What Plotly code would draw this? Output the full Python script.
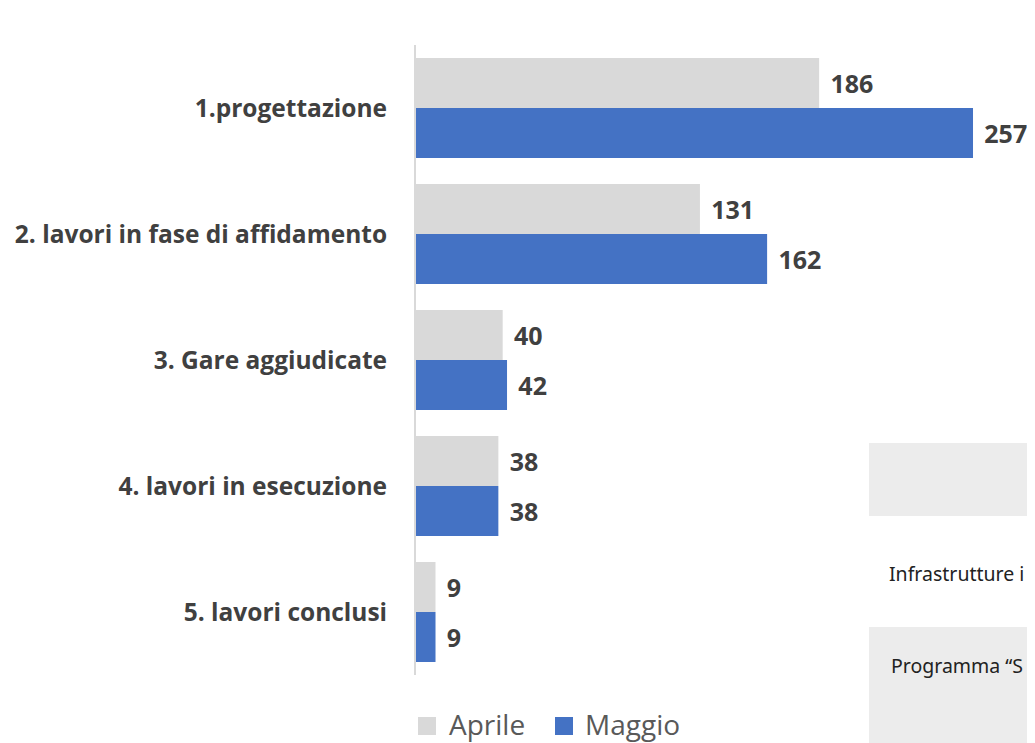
import plotly.graph_objects as go

categories = ["1.progettazione", "2. lavori in fase di affidamento", "3. Gare aggiudicate",
              "4. lavori in esecuzione", "5. lavori conclusi"]
aprile = [186, 131, 40, 38, 9]
maggio = [257, 162, 42, 38, 9]
series_names = ["Aprile", "Maggio"]
table_texts = ["Infrastrutture i", "Programma \u201cS"]

GRAY = "#d9d9d9"
BLUE = "#4472c4"
TXT = "#404040"
FONT = "Open Sans"

# page body adds an 8px offset; figure is laid out in page pixels minus 8
W, H = 1027, 735
L, T, B = 408, 37, 68
PW = W - L
PH = H - T - B


def px(xp):
    return (xp - 8 - L) / PW


def py(yp):
    return (H - B - (yp - 8)) / PH


fig = go.Figure()
for name, vals, col in [(series_names[0], aprile, GRAY), (series_names[1], maggio, BLUE)]:
    fig.add_trace(go.Bar(
        y=categories, x=vals, name=name, orientation="h",
        marker=dict(color=col, line=dict(width=0)),
        text=vals, texttemplate="\u2009\u2009%{x}", textposition="outside",
        textfont=dict(family=FONT, size=25, color=TXT, weight="bold"),
        cliponaxis=False, showlegend=False,
    ))

fig.update_layout(
    width=W, height=H,
    margin=dict(l=L, r=0, t=T, b=B),
    paper_bgcolor="white", plot_bgcolor="white",
    barmode="group", bargap=0.206, bargroupgap=0,
    xaxis=dict(range=[0, 285.6], visible=False, fixedrange=True),
    yaxis=dict(autorange="reversed", showgrid=False, ticks="",
               showline=True, linecolor=GRAY, linewidth=2,
               ticklabelstandoff=22,
               tickfont=dict(family=FONT, size=24.5, color=TXT, weight="bold")),
    showlegend=False,
)

# custom legend: square swatches + labels
legend_items = [(series_names[0], GRAY, 418, 447), (series_names[1], BLUE, 555, 583)]
for name, col, sx, tx in legend_items:
    fig.add_shape(type="rect", xref="paper", yref="paper",
                  x0=px(sx), x1=px(sx + 18), y0=py(735), y1=py(717),
                  fillcolor=col, line=dict(width=0))
    fig.add_annotation(
        text=name, xref="paper", yref="paper", x=px(tx), y=py(724),
        xanchor="left", yanchor="middle", showarrow=False,
        font=dict(family=FONT, size=28, color="#595959"))

# Table fragment at bottom right (part of the original slide)
fig.add_shape(type="rect", xref="paper", yref="paper", x0=px(869), x1=1.05,
              y0=py(516), y1=py(443), fillcolor="#ececec", line=dict(width=0), layer="below")
fig.add_shape(type="rect", xref="paper", yref="paper", x0=px(869), x1=1.05,
              y0=py(760), y1=py(627), fillcolor="#ececec", line=dict(width=0), layer="below")
fig.add_annotation(text=table_texts[0], xref="paper", yref="paper", x=px(887), y=py(573),
                   xanchor="left", yanchor="middle", showarrow=False,
                   font=dict(family="Noto Sans", size=19.5, color="#222222"))
fig.add_annotation(text=table_texts[1], xref="paper", yref="paper", x=px(889), y=py(665),
                   xanchor="left", yanchor="middle", showarrow=False,
                   font=dict(family="Noto Sans", size=19.5, color="#222222"))

fig.write_html("out.html")
